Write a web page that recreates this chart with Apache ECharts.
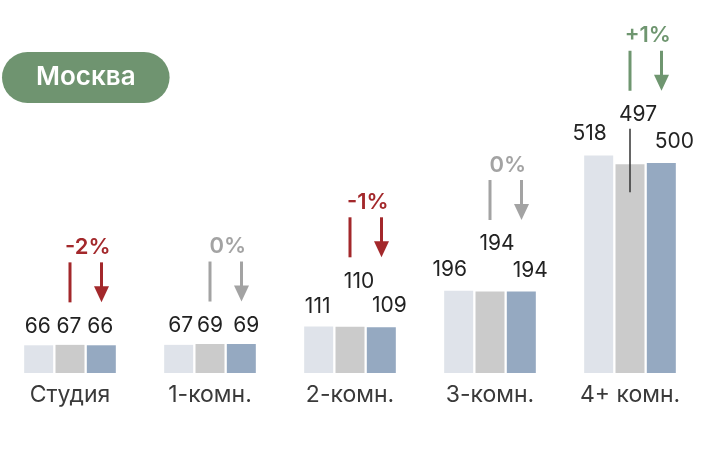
<!DOCTYPE html>
<html>
<head>
<meta charset="utf-8">
<script src="https://cdn.jsdelivr.net/npm/echarts@6/dist/echarts.min.js"></script>
<style>
  html, body { margin: 0; padding: 0; background: #fff; }
  #chart { width: 720px; height: 455px; }
</style>
</head>
<body>
<div id="chart"></div>
<script>
// данные
const categories = ['Студия', '1-комн.', '2-комн.', '3-комн.', '4+ комн.'];
const seriesA = [66, 67, 111, 196, 518];
const seriesB = [67, 69, 110, 194, 497];
const seriesC = [66, 69, 109, 194, 500];
const changes = ['-2%', '0%', '-1%', '0%', '+1%'];
const trend = ['down', 'flat', 'down', 'flat', 'up'];

// раскладка подписей (смещения, px)
const shiftA = [[-1, 0], [2, -1], [-1, -1], [-9, -2], [-9, -3]];
const shiftB = [[-1, 0], [0, 0], [9, -27], [7, -29], [8, -31]];
const shiftC = [[-1, 0], [5, 0], [8, -3], [9, -2], [13, -3]];
const leader = [false, false, false, false, true];

const FONT = 'Inter';
const trendColor = { down: '#a3282b', flat: '#a3a3a3', up: '#6f9670' };
const BAR_W = 29;
const STEP = 31.5;
const LABEL_DIST = 8;
const LABEL_SIZE = 21;

function items(values, shifts) {
    return values.map((v, i) => ({ value: v, label: { offset: shifts[i] } }));
}

function barSeries(name, values, shifts, color) {
    return {
        name: name,
        type: 'bar',
        barWidth: BAR_W,
        barGap: '8%',
        itemStyle: { color: color },
        label: {
            show: true,
            position: 'top',
            distance: LABEL_DIST,
            color: '#222',
            fontFamily: FONT,
            fontSize: LABEL_SIZE
        },
        data: items(values, shifts)
    };
}

/** стрелки и проценты над группой */
function renderArrows(params, api) {
    const i = api.value(0);
    const p = api.coord([i, seriesB[i]]);
    const xB = p[0];
    const xC = p[0] + STEP;
    const labelY = p[1] - LABEL_DIST - LABEL_SIZE / 2 + shiftB[i][1];
    const bottom = labelY - 24;
    const top = bottom - 40;
    const color = trendColor[trend[i]];
    const children = [
        { type: 'line', shape: { x1: xB, y1: top, x2: xB, y2: bottom }, style: { stroke: color, lineWidth: 3 } },
        { type: 'line', shape: { x1: xC, y1: top, x2: xC, y2: bottom - 12 }, style: { stroke: color, lineWidth: 3 } },
        { type: 'polygon', shape: { points: [[xC - 7.5, bottom - 16], [xC + 7.5, bottom - 16], [xC, bottom]] }, style: { fill: color } },
        {
            type: 'text',
            x: (xB + xC) / 2 + 2,
            y: top - 15,
            style: {
                text: changes[i],
                fill: color,
                font: '600 22px ' + FONT,
                align: 'center',
                verticalAlign: 'middle'
            }
        }
    ];
    if (leader[i]) {
        children.push({
            type: 'line',
            shape: { x1: xB, y1: labelY + 14, x2: xB, y2: p[1] + 28 },
            style: { stroke: '#333', lineWidth: 1.5 }
        });
    }
    return { type: 'group', children: children };
}

const chart = echarts.init(document.getElementById('chart'), null, { renderer: 'canvas' });
chart.setOption({
    animation: false,
    backgroundColor: '#fff',
    title: {
        text: 'Москва',
        left: 2,
        top: 52,
        padding: [11, 34, 11, 34],
        backgroundColor: '#6f9470',
        borderRadius: 26,
        textStyle: { color: '#fff', fontFamily: FONT, fontSize: 26, fontWeight: 600, lineHeight: 29 }
    },
    grid: { left: 0, right: 20, top: 37, bottom: 82 },
    xAxis: {
        type: 'category',
        data: categories,
        axisLine: { show: false },
        axisTick: { show: false },
        axisLabel: { color: '#3a3a3a', fontFamily: FONT, fontSize: 23, margin: 11 }
    },
    yAxis: {
        type: 'value',
        min: 0,
        max: 800,
        show: false,
        splitLine: { show: false }
    },
    series: [
        barSeries('A', seriesA, shiftA, '#dfe3ea'),
        barSeries('B', seriesB, shiftB, '#cbcbcb'),
        barSeries('C', seriesC, shiftC, '#95a9c1'),
        {
            type: 'custom',
            silent: true,
            z: 10,
            renderItem: renderArrows,
            data: categories.map((c, i) => [i, seriesB[i]])
        }
    ]
});
</script>
</body>
</html>
